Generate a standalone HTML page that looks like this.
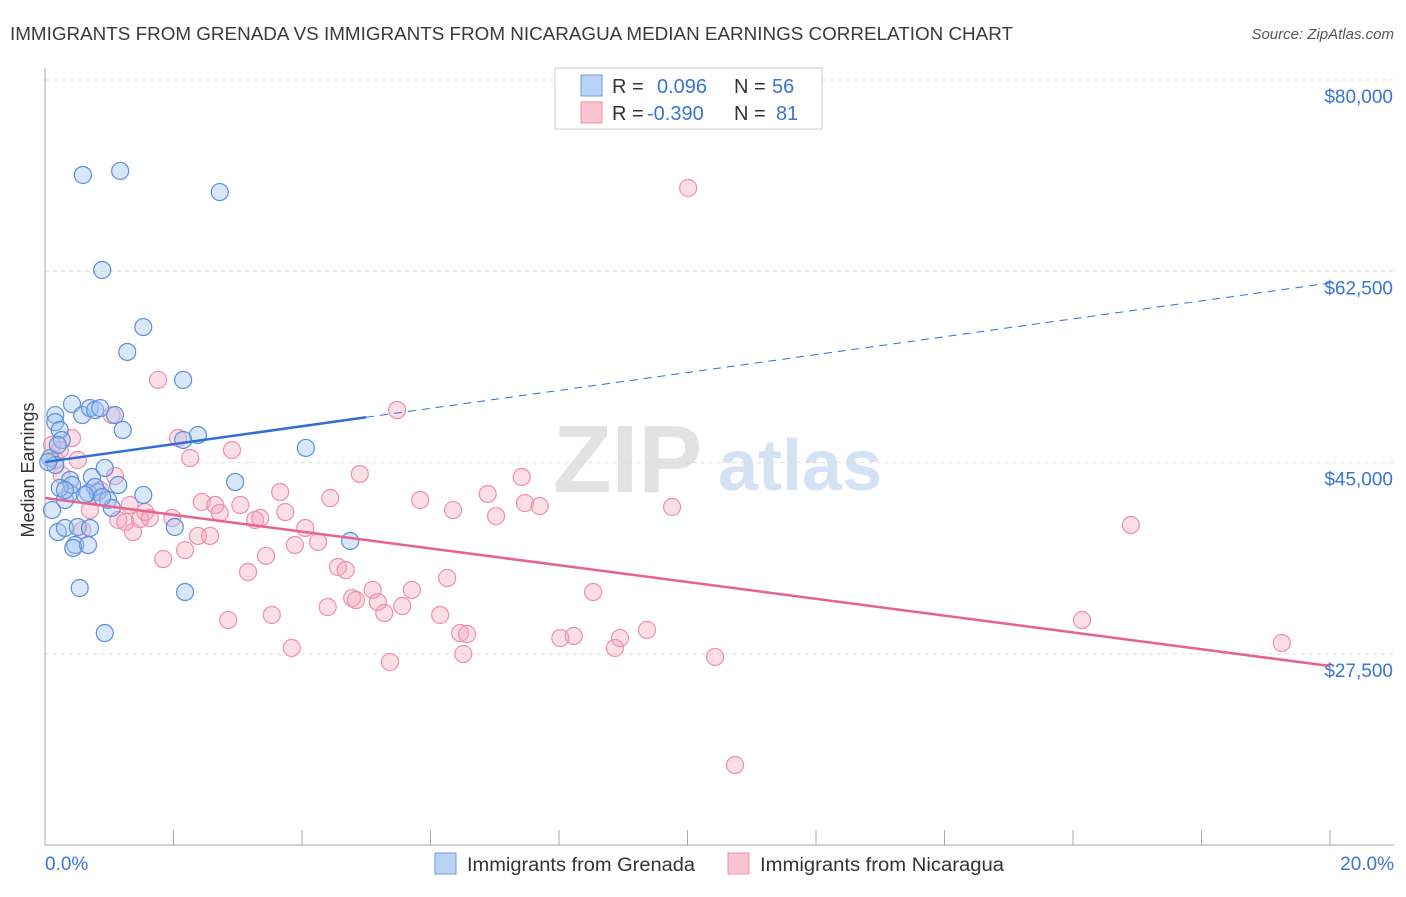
<!DOCTYPE html>
<html><head><meta charset="utf-8"><style>
body{margin:0;background:#fff;font-family:"Liberation Sans",sans-serif;}
svg text{font-family:"Liberation Sans",sans-serif;}
</style></head><body>
<svg id="chart" width="1406" height="892" xmlns="http://www.w3.org/2000/svg">
<text x="10" y="40" font-size="18.5" fill="#3a3a3a" textLength="1003" lengthAdjust="spacingAndGlyphs">IMMIGRANTS FROM GRENADA VS IMMIGRANTS FROM NICARAGUA MEDIAN EARNINGS CORRELATION CHART</text>
<text x="1394" y="39" font-size="15" fill="#555" font-style="italic" text-anchor="end">Source: ZipAtlas.com</text>
<g>
<text x="553" y="492" font-size="96" fill="#e2e2e2" font-family="Liberation Serif, serif" font-weight="bold">ZIP</text>
<text x="718" y="490" font-size="72" fill="#d4e2f4" font-weight="bold">atlas</text>
</g>
<g id="grid"></g>
<g id="axes"></g>
<g id="pts"></g>
<g id="trends"></g>
<g>
<rect x="555" y="68" width="267" height="61" fill="#fff" stroke="#ccc"/>
<rect x="581" y="75" width="21" height="21" fill="#b9d3f5" stroke="#6a9be0"/>
<rect x="581" y="102" width="21" height="21" fill="#fac4d3" stroke="#ec8fab"/>
<text x="612" y="93" font-size="20" fill="#333">R =</text>
<text x="657" y="93" font-size="20" fill="#3a74d6">0.096</text>
<text x="734" y="93" font-size="20" fill="#333">N =</text>
<text x="772" y="93" font-size="20" fill="#3a74d6">56</text>
<text x="612" y="120" font-size="20" fill="#333">R =</text>
<text x="647" y="120" font-size="20" fill="#3a74d6">-0.390</text>
<text x="734" y="120" font-size="20" fill="#333">N =</text>
<text x="776" y="120" font-size="20" fill="#3a74d6">81</text>
</g>
<g>
<rect x="435" y="853" width="21" height="21" fill="#b9d3f5" stroke="#6a9be0"/>
<text x="467" y="871" font-size="19" fill="#333" textLength="228" lengthAdjust="spacingAndGlyphs">Immigrants from Grenada</text>
<rect x="728" y="853" width="21" height="21" fill="#fac4d3" stroke="#ec8fab"/>
<text x="760" y="871" font-size="19" fill="#333" textLength="244" lengthAdjust="spacingAndGlyphs">Immigrants from Nicaragua</text>
</g>
<text transform="translate(34,470) rotate(-90)" font-size="18" fill="#333" text-anchor="middle">Median Earnings</text>
</svg>
<script>
const yTicks=[80000,62500,45000,27500];
const yTickLabels=["$80,000","$62,500","$45,000","$27,500"];
const xTickLabels=["0.0%","20.0%"];
const grenadaX=[0.16,0.16,0.23,0.26,0.08,0.16,0.11,0.20,0.31,0.39,0.42,0.39,0.31,0.47,0.44,0.51,0.54,0.58,0.59,0.67,0.70,0.73,0.78,0.67,0.70,0.82,0.86,0.89,0.93,0.93,0.98,1.04,1.09,1.14,1.17,1.21,1.28,1.53,1.53,2.02,2.15,2.18,2.38,2.15,2.72,2.96,4.06,4.75,0.42,0.23,0.05,0.78,0.89,0.31,0.62,0.20];
const grenadaY=[49350,48700,47980,47070,45420,44780,40660,38650,41580,42220,50360,43410,39020,37460,37190,39110,33530,49350,71310,42220,49990,43680,49810,37460,39020,42310,49990,62620,44510,29410,41580,40850,49350,42950,71680,47980,55120,57400,42040,39110,52560,33160,47520,47070,69750,43230,46340,37830,42950,42680,45050,42770,41850,42490,42040,46610];
const nicX=[0.11,0.16,0.23,0.26,0.42,0.51,0.58,0.70,0.86,1.04,1.09,1.14,1.25,1.32,1.37,1.48,1.56,1.63,1.76,1.84,1.98,2.07,2.18,2.26,2.38,2.44,2.57,2.65,2.72,2.85,2.91,3.04,3.16,3.27,3.35,3.44,3.53,3.66,3.74,3.84,3.89,4.05,4.25,4.40,4.44,4.56,4.68,4.78,4.84,4.90,5.10,5.18,5.28,5.37,5.48,5.56,5.71,5.84,6.15,6.26,6.35,6.46,6.51,6.57,6.89,7.02,7.42,7.47,7.70,8.02,8.23,8.53,8.87,8.95,9.37,9.76,10.01,10.43,10.74,16.14,16.90,19.25];
const nicY=[46610,45240,46150,43870,47250,45240,38830,40660,42490,49350,43770,39750,39570,41120,38650,39840,40480,39930,52560,36180,39930,47250,37000,45420,38290,41400,38290,41120,40390,30600,46150,41120,34990,39750,39930,36460,31060,42310,40480,28040,37460,39020,37740,31790,41760,35450,35170,32610,32430,43960,33350,32250,31240,26760,49810,31880,33350,41580,31060,34440,40660,29410,27490,29320,42130,40110,43680,41300,41030,28950,29140,33160,28040,28950,29690,40940,70120,27220,17340,30600,39290,28500];
const grenadaTrend=[45050,61430];
const nicTrend=[41760,26390];
const NS="http://www.w3.org/2000/svg";
const X0=45,X1=1330,Y80=80,PXPER=191.3/17500;
const xs=v=>X0+(v/20)*(X1-X0);
const ys=v=>Y80+(80000-v)*PXPER;
function mk(tag,attrs,parent){const e=document.createElementNS(NS,tag);for(const k in attrs)e.setAttribute(k,attrs[k]);parent.appendChild(e);return e;}
const grid=document.getElementById('grid'),axes=document.getElementById('axes'),pts=document.getElementById('pts'),tr=document.getElementById('trends');
yTicks.forEach((t,i)=>{
 const l=mk('line',{x1:X0,x2:1394,y1:ys(t),y2:ys(t),stroke:'#dcdcdc','stroke-dasharray':'4,4'},grid);
 
 
 const tx=mk('text',{x:1393,y:ys(t)+23,'font-size':19,fill:'#3a74d6','text-anchor':'end'},axes);
 tx.textContent=yTickLabels[i];
 
 
});
const ax=mk('line',{x1:X0,x2:X0,y1:68,y2:845,stroke:'#aaa'},axes);


const bx=mk('line',{x1:X0,x2:1394,y1:845,y2:845,stroke:'#aaa'},axes);


for(let i=0;i<=10;i++){const t=mk('line',{x1:xs(i*2),x2:xs(i*2),y1:830,y2:845,stroke:'#aaa'},axes);
 
 }
[[X0,'start'],[1394,'end']].forEach((p,i)=>{const t=mk('text',{x:p[0],y:870,'font-size':19,fill:'#3a74d6','text-anchor':p[1]},axes);t.textContent=xTickLabels[i];
 
 });
nicX.forEach((x,i)=>{const c=mk('circle',{cx:xs(x),cy:ys(nicY[i]),r:8.5,fill:'rgba(245,160,185,0.35)',stroke:'#ee8fac','stroke-width':1.2},pts);
 
 });
grenadaX.forEach((x,i)=>{const c=mk('circle',{cx:xs(x),cy:ys(grenadaY[i]),r:8.5,fill:'rgba(160,195,240,0.4)',stroke:'#5a8fdc','stroke-width':1.2},pts);
 
 });
const gAt=x=>grenadaTrend[0]+(grenadaTrend[1]-grenadaTrend[0])*x/20;
const g1=mk('line',{x1:xs(0),y1:ys(gAt(0)),x2:xs(5),y2:ys(gAt(5)),stroke:'#2f6fd4','stroke-width':2.5},tr);


const g2=mk('line',{x1:xs(5),y1:ys(gAt(5)),x2:xs(20),y2:ys(gAt(20)),stroke:'#2f6fd4','stroke-width':1,'stroke-dasharray':'8,6'},tr);


const p1=mk('line',{x1:xs(0),y1:ys(nicTrend[0]),x2:xs(20),y2:ys(nicTrend[1]),stroke:'#e8628e','stroke-width':2.5},tr);


</script>
</body></html>
